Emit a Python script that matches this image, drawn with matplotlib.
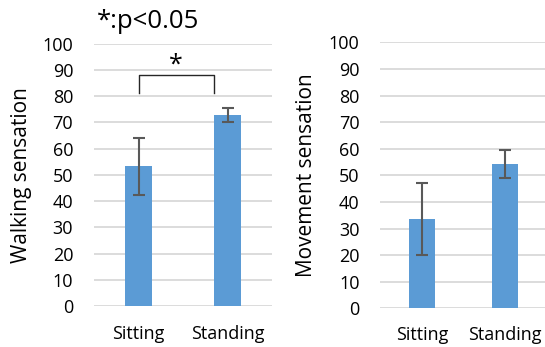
import matplotlib
matplotlib.use("Agg")
from matplotlib import pyplot as plt
import numpy as np

plt.rcParams['font.family'] = ['Open Sans', 'DejaVu Sans']

categories = ["Sitting", "Standing"]

walking_mean = [53.2, 72.7]
walking_err = [10.9, 2.6]

movement_mean = [33.6, 54.4]
movement_err = [13.5, 5.3]

y_ticks = [0, 10, 20, 30, 40, 50, 60, 70, 80, 90, 100]

# significance bracket for walking sensation
bracket_low = 81.2
bracket_high = 88.0

BAR_COLOR = "#5B9BD5"
ERR_COLOR = "#595959"
GRID_COLOR = "#D9D9D9"
BAR_WIDTH = 0.31


def draw_panel(ax, means, errs, ylabel, label_x, xpad):
    x = np.arange(len(categories))
    ax.bar(x, means, width=BAR_WIDTH, color=BAR_COLOR, zorder=2)
    ax.errorbar(x, means, yerr=errs, fmt="none", ecolor=ERR_COLOR,
                elinewidth=1.5, capsize=4.3, capthick=1.5, zorder=3)

    ax.set_xlim(-0.5, len(categories) - 0.5)
    ax.set_ylim(0, 100)
    ax.set_yticks(y_ticks)
    ax.set_xticks(x)
    ax.set_xticklabels(categories)

    ax.grid(axis="y", color=GRID_COLOR, linewidth=1.3, zorder=0)
    ax.set_axisbelow(True)
    for side in ["top", "right", "left", "bottom"]:
        ax.spines[side].set_visible(False)

    ax.tick_params(axis="y", length=0, pad=15, labelsize=13, colors="#000000")
    ax.tick_params(axis="x", length=0, pad=xpad, labelsize=13, colors="#000000")

    ax.get_figure().text(label_x, 0.496, ylabel, rotation=90, ha="center",
                         va="center", fontsize=15)


fig = plt.figure(figsize=(5.45, 3.47), dpi=100)

ax1 = fig.add_axes([0.1725, 0.118, 0.3266, 0.7565])
draw_panel(ax1, walking_mean, walking_err, "Walking sensation", 0.039, 14)

ax2 = fig.add_axes([0.698, 0.1115, 0.3046, 0.7666])
draw_panel(ax2, movement_mean, movement_err, "Movement sensation", 0.562, 13)

# bracket: from Sitting error bar to left edge of Standing bar
left = 0
right = 1 - BAR_WIDTH / 2
ax1.plot([left, left, right, right],
         [bracket_low, bracket_high, bracket_high, bracket_low],
         color="#262626", linewidth=1.0, zorder=4, clip_on=False)
ax1.text((left + right) / 2, bracket_high + 1.5, "*", ha="center",
         va="baseline", fontsize=18)

fig.text(0.178, 0.938, "*:p<0.05", ha="left", va="center", fontsize=18.5)

plt.savefig("out.png", dpi=100)
